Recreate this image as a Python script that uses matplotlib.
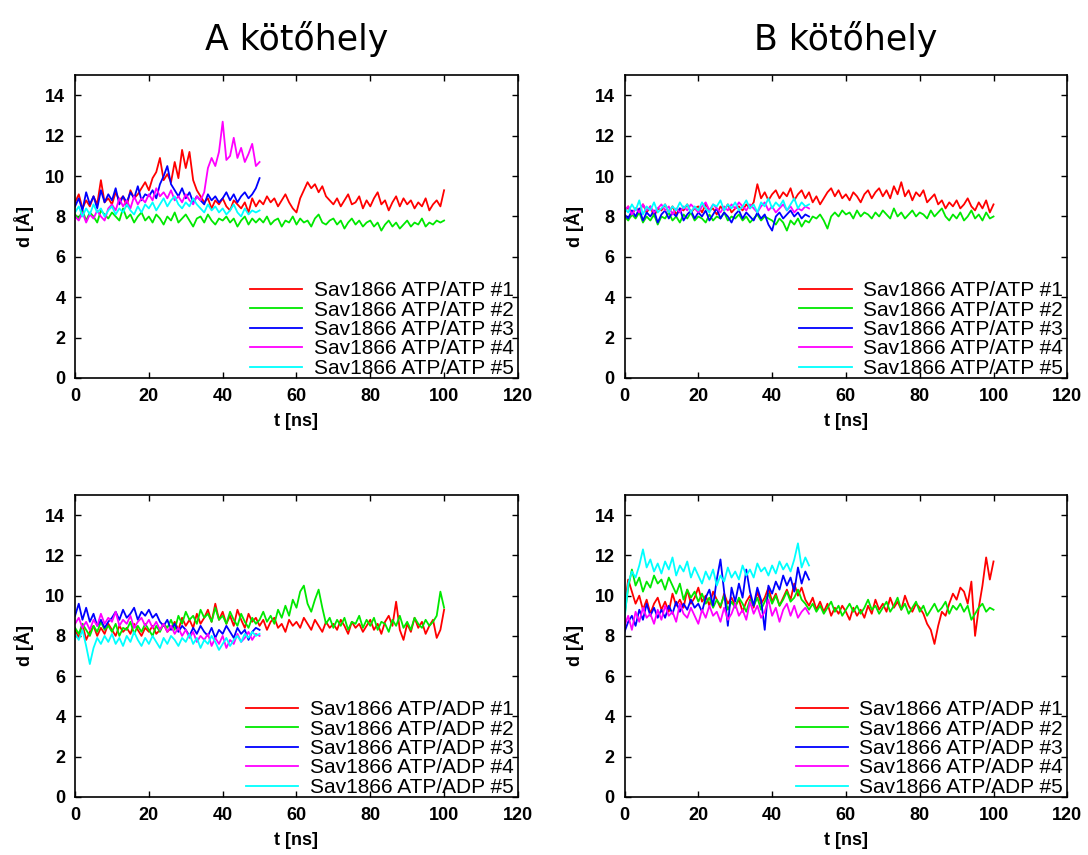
import numpy as np
import matplotlib
matplotlib.use("Agg")
import matplotlib.pyplot as plt

# d [A], one value per ns
# A site, ATP/ATP
a1 = [8.7, 9.1, 8.4, 8.8, 8.5, 9.0, 8.6, 9.8, 8.7, 8.9,
      8.6, 9.2, 8.8, 9.0, 8.5, 9.3, 8.9, 9.1, 9.4, 9.7,
      9.3, 9.9, 10.2, 10.9, 9.8, 10.1, 9.7, 10.7, 9.9, 11.3,
      10.4, 11.2, 9.8, 9.3, 9.0, 8.7, 8.9, 8.4, 8.8, 8.6,
      8.9, 8.5, 8.3, 8.8, 8.6, 8.4, 8.7, 8.2, 8.9, 8.5,
      8.8, 8.6, 9.0, 8.7, 8.9, 8.5, 8.8, 9.1, 8.7, 8.4,
      8.2, 8.9, 9.3, 9.7, 9.4, 9.6, 9.2, 9.5, 9.0, 8.8,
      8.6, 8.9, 8.5, 8.8, 9.1, 8.6, 8.7, 9.0, 8.4, 8.8,
      8.5, 8.9, 9.2, 8.6, 8.8, 8.3, 8.7, 9.0, 8.5, 8.9,
      8.6, 8.8, 8.4, 8.7, 8.5, 8.9, 8.3, 8.6, 8.8, 8.5, 9.3]
a2 = [8.1, 7.9, 8.3, 7.8, 8.2, 8.0, 7.7, 8.3, 8.1, 7.9,
      8.2, 8.0, 7.8, 8.4, 7.9, 8.1, 7.7, 8.0, 8.2, 7.8,
      8.0, 7.7, 8.1, 7.9, 7.6, 8.0, 7.8, 8.2, 7.7, 7.9,
      8.1, 7.8, 7.5, 7.9, 8.0, 7.7, 8.1, 7.8, 7.6, 7.9,
      7.8, 8.0, 7.7, 7.9, 7.5, 7.8, 8.0, 7.6, 7.9, 7.7,
      7.9, 7.7, 8.0, 7.6, 7.8, 7.9, 7.5, 7.8, 7.7, 8.0,
      7.6, 7.9, 7.7, 7.8, 7.5, 7.9, 8.1, 7.7, 7.6, 7.8,
      7.9, 7.6, 7.8, 7.4, 7.7, 7.9, 7.6, 7.8, 7.5, 7.7,
      7.8, 7.5, 7.7, 7.3, 7.6, 7.8, 7.5, 7.7, 7.4, 7.6,
      7.8, 7.5, 7.7, 7.6, 7.9, 7.5, 7.7, 7.6, 7.8, 7.7, 7.8]
a3 = [8.5, 8.9, 8.3, 9.2, 8.6, 9.0, 8.4, 9.3, 8.7, 9.1,
      8.8, 9.4, 8.6, 9.0, 8.7, 9.2, 8.9, 9.5, 8.8, 9.1,
      9.0, 9.3, 8.9, 9.6, 10.0, 10.5, 9.6, 9.3, 9.0, 9.4,
      8.9, 9.2, 8.7, 9.0, 8.8, 8.6, 9.1, 8.8, 9.0, 8.7,
      8.9, 9.2, 8.8, 9.1, 8.7, 9.0, 9.2, 8.9, 9.1, 9.4, 9.9]
a4 = [8.0, 7.8, 8.2, 7.7, 8.1, 7.9, 8.3, 8.0, 7.8, 8.4,
      8.6, 8.3, 8.9, 8.5, 8.8, 8.4, 9.0, 8.6, 8.9, 8.7,
      9.1, 8.8, 9.4, 9.0, 9.2, 8.9, 9.3, 8.8, 9.0, 8.7,
      9.1, 8.8, 8.6, 9.0, 8.8, 9.2, 10.4, 10.9, 10.5, 11.2,
      12.7, 10.8, 11.0, 11.9, 10.9, 11.4, 10.7, 11.1, 11.6, 10.5, 10.7]
a5 = [8.2, 8.5, 8.0, 8.4, 8.1, 8.6, 8.2, 8.4, 8.0, 8.3,
      8.5, 8.1, 8.4, 8.2, 8.6, 8.3, 8.1, 8.5, 8.2, 8.6,
      8.4, 8.7, 8.3, 8.6, 8.9, 8.5, 8.8, 9.0, 8.6, 8.4,
      8.7, 8.5, 8.9, 8.6, 8.4, 8.2, 8.6, 8.3, 8.5, 8.2,
      8.4, 8.1, 8.3, 8.6, 8.2, 8.0, 8.4, 8.1, 8.3, 8.2, 8.3]

# B site, ATP/ATP
b1 = [8.2, 8.5, 8.1, 8.4, 8.3, 8.6, 8.2, 8.5, 8.0, 8.4,
      8.3, 8.6, 8.2, 8.5, 8.1, 8.4, 8.3, 8.6, 8.2, 8.4,
      8.5, 8.2, 8.6, 8.3, 8.4, 8.1, 8.5, 8.3, 8.6, 8.2,
      8.4, 8.5, 8.3, 8.6, 8.4, 8.7, 9.6, 8.9, 9.2, 8.8,
      9.1, 9.3, 8.9, 9.2, 9.0, 9.4, 8.8, 9.1, 9.3, 8.9,
      9.2, 8.7, 9.0, 8.6, 8.9, 9.2, 9.4, 9.0, 9.3, 8.9,
      9.1, 8.8, 9.2, 9.0, 8.7, 9.1, 9.3, 8.9, 9.2, 9.4,
      9.0, 9.3, 8.9, 9.5, 9.1, 9.7, 9.0, 9.3, 8.8, 9.2,
      9.0, 9.3, 8.7, 8.9, 9.1, 8.6, 8.8, 8.4, 8.7, 8.5,
      8.8, 8.4, 8.6, 8.9, 8.5, 8.3, 8.7, 8.4, 8.8, 8.2, 8.6]
b2 = [8.0, 7.8, 8.1, 7.9, 8.2, 7.7, 8.0, 7.8, 8.1, 7.6,
      8.0, 7.9, 8.2, 7.8, 8.0, 7.7, 8.1, 7.9, 8.2, 7.8,
      8.0, 7.9, 7.7, 8.1, 7.8, 8.0, 7.9, 8.2, 7.8, 8.0,
      7.9, 8.1, 7.8, 8.0, 7.7, 7.9, 8.1, 7.8, 8.0, 7.9,
      7.8, 7.6, 7.9, 7.7, 7.3, 7.8, 7.6, 7.9, 7.5, 7.8,
      7.7, 8.0, 7.9, 8.1, 7.8, 7.4, 8.0, 8.2, 8.0, 8.3,
      8.1, 8.2, 7.9, 8.3, 8.0, 8.2, 8.1, 7.9, 8.2, 8.0,
      8.3, 8.1, 7.9, 8.4, 8.0, 8.2, 7.9, 8.1, 8.3, 8.0,
      8.2, 8.1, 7.9, 8.3, 8.0, 8.2, 8.4, 8.0, 7.8, 8.1,
      7.9, 8.2, 7.8, 8.0, 8.3, 7.9, 8.1, 7.8, 8.2, 7.9, 8.0]
b3 = [8.1, 7.9, 8.3, 8.0, 8.4, 7.8, 8.2, 8.0, 8.3, 7.7,
      8.1, 8.3, 7.9, 8.2, 8.0, 8.4, 7.8, 8.1, 8.3, 7.9,
      8.2, 8.0, 8.3, 7.8, 8.1, 8.4, 7.9, 8.2, 8.0, 7.7,
      8.1, 8.3, 7.9, 8.2, 8.0, 7.8, 8.2, 7.9, 8.1, 7.6,
      7.3, 8.0, 8.2, 7.9, 8.1, 8.3, 8.0, 8.2, 7.9, 8.1, 8.0]
b4 = [8.3, 8.5, 8.1, 8.4, 8.2, 8.6, 8.3, 8.5, 8.2, 8.4,
      8.6, 8.3, 8.5, 8.1, 8.4, 8.2, 8.5, 8.3, 8.6, 8.4,
      8.2, 8.5, 8.7, 8.3, 8.6, 8.4, 8.2, 8.5, 8.3, 8.6,
      8.4, 8.7, 8.5, 8.3, 8.6, 8.4, 8.2, 8.5, 8.7, 8.3,
      8.5, 8.2, 8.4, 8.6, 8.3, 8.5, 8.2, 8.4, 8.3, 8.5, 8.4]
b5 = [8.4, 8.2, 8.6, 8.3, 8.8, 8.1, 8.5, 8.3, 8.7, 8.2,
      8.4, 8.6, 8.2, 8.5, 8.3, 8.7, 8.4, 8.6, 8.2, 8.5,
      8.3, 8.7, 8.4, 8.2, 8.6, 8.5, 8.8, 8.3, 8.6, 8.4,
      8.7, 8.3, 8.5, 8.8, 8.4, 8.6, 8.2, 8.7, 8.5, 8.9,
      8.4, 8.7, 8.5, 8.8, 8.3, 8.6, 8.9, 8.4, 8.7, 8.5, 8.6]

# A site, ATP/ADP
c1 = [8.3, 7.9, 8.6, 7.8, 8.2, 8.5, 8.0, 8.4, 8.1, 8.6,
      8.3, 8.0, 8.5, 8.2, 8.4, 8.1, 8.6, 8.3, 8.0, 8.4,
      8.2, 8.5, 8.1, 8.3, 8.6, 8.2, 8.4, 8.7, 8.3, 8.9,
      8.5, 8.8, 8.4, 9.1, 8.6, 8.9, 9.3, 8.7, 9.6, 8.8,
      9.2, 8.6, 9.0, 8.5, 9.3, 8.8, 8.4, 9.1, 8.7, 8.9,
      8.5, 8.8, 8.3, 8.7, 8.9, 8.4, 8.6, 8.2, 8.8, 8.5,
      8.7, 8.4, 8.9, 8.6, 8.3, 8.8, 8.5, 8.2, 8.7, 8.4,
      8.6, 8.3, 8.8, 8.5, 8.1, 8.7, 8.4, 8.6, 8.2, 8.5,
      8.8, 8.3, 8.6, 8.1, 8.7, 9.0, 8.5, 9.7, 8.3, 7.8,
      8.6, 8.2, 8.9, 8.4, 8.7, 8.1, 8.5, 8.8, 7.9, 8.3, 9.3]
c2 = [8.4, 8.1, 8.6, 8.3, 8.0, 8.5, 8.2, 8.7, 8.3, 8.5,
      8.2, 8.6, 8.0, 8.4, 8.3, 8.7, 8.1, 8.5, 8.2, 8.6,
      8.3, 8.0, 8.5, 8.2, 8.6, 8.4, 8.8, 8.3, 9.0, 8.6,
      9.2, 8.8, 9.0, 8.6, 9.3, 8.9, 9.1, 8.7, 9.4, 8.8,
      9.0, 8.6, 9.2, 8.8, 8.5, 9.1, 8.7, 8.4, 8.9, 8.6,
      8.8, 9.2, 8.7, 9.0, 8.6, 9.3, 8.9, 9.5, 9.0, 9.8,
      9.4, 10.2, 10.5, 9.6, 9.2, 9.8, 10.3, 9.4, 8.6, 8.9,
      8.4, 8.8, 8.5, 8.9, 8.3, 8.7, 8.6, 9.0, 8.4, 8.8,
      8.5, 8.9, 8.3, 8.7, 8.6, 8.2, 8.8, 8.5, 9.0, 8.4,
      8.7, 8.3, 8.9, 8.6, 8.4, 8.8, 8.5, 8.7, 9.0, 10.2, 9.4]
c3 = [9.0, 9.6, 8.8, 9.4, 8.7, 9.1, 8.5, 8.8, 8.4, 8.7,
      8.9, 9.2, 8.8, 9.3, 8.9, 9.1, 9.4, 8.8, 9.2, 9.0,
      9.3, 8.9, 9.1, 8.7, 8.5, 8.8, 8.3, 8.6, 8.2, 8.5,
      8.3, 8.0, 8.4, 8.1, 8.5, 8.2, 8.0, 8.4, 7.9, 8.3,
      8.1, 8.5, 8.2, 7.9, 8.4, 8.1, 8.3, 7.8, 8.2, 8.4, 8.3]
c4 = [8.6, 8.9, 8.4, 8.7, 8.3, 8.8, 8.5, 9.1, 8.6, 8.9,
      8.7, 9.2, 8.5, 8.8, 8.6, 9.0, 8.4, 8.7, 8.9, 8.5,
      8.8, 8.4, 8.7, 8.3, 8.6, 8.2, 8.5, 8.1, 8.4, 8.0,
      8.3, 7.9, 8.2, 7.7, 8.0, 7.8, 8.1, 7.5, 7.9, 7.6,
      8.0, 7.4, 7.8, 7.6, 8.1, 7.7, 7.9, 8.2, 7.8, 8.1, 8.0]
c5 = [8.1, 7.8, 8.3, 7.5, 6.6, 7.4, 7.9, 7.6, 8.0, 7.7,
      8.1, 7.6, 7.9, 7.5, 8.0, 7.7, 8.2, 7.8, 7.5, 7.9,
      7.6, 8.0, 7.7, 7.4, 7.9, 7.6, 8.0, 7.8, 7.5, 7.9,
      7.7, 8.1, 7.6, 7.9, 7.4, 7.8, 7.6, 8.0, 7.7, 7.3,
      7.6, 7.9, 7.5, 7.8, 8.0, 7.7, 8.1, 7.9, 8.2, 8.0, 8.1]

# B site, ATP/ADP
d1 = [9.4, 10.8, 10.2, 9.6, 10.0, 9.3, 9.8, 9.1, 9.6, 9.9,
      9.3, 9.7, 9.2, 10.1, 9.5, 9.8, 9.4, 10.3, 9.6, 9.9,
      10.4, 9.7, 10.0, 9.5, 10.2, 9.8, 9.4, 10.1, 9.6, 9.9,
      9.5, 9.8, 9.2, 9.7, 10.0, 9.4, 10.2, 9.6, 9.9, 10.4,
      9.7, 10.1, 9.5, 9.9, 10.3, 9.8, 10.6, 10.0, 10.4, 9.8,
      9.5, 9.9, 9.3, 9.7, 9.2, 9.6, 9.0, 9.4, 9.1, 9.5,
      9.2, 8.8, 9.4, 9.0, 9.3, 8.9, 9.5, 9.1, 9.8, 9.3,
      9.6, 9.2, 9.9, 9.4, 9.7, 9.3, 10.0, 9.5, 9.2, 9.6,
      9.4, 9.1, 8.6, 8.3, 7.6, 8.5, 9.2, 9.0, 9.6, 10.1,
      9.8, 10.4, 10.2, 9.6, 10.7, 8.0, 9.4, 10.5, 11.9, 10.8, 11.7]
d2 = [9.0, 10.4, 11.3, 10.5, 10.9, 10.2, 10.7, 10.4, 11.0, 10.6,
      10.8, 10.3, 10.9, 10.5, 10.1, 10.6, 9.8, 10.3, 9.9, 10.2,
      9.7, 10.1, 9.6, 9.9, 9.4, 9.8, 9.5, 10.0, 9.3, 9.7,
      9.4, 9.9, 9.6, 9.2, 9.8, 9.5, 9.9, 9.3, 9.7, 10.1,
      9.6, 10.0, 9.5, 9.8, 10.2, 9.7, 9.9, 10.3, 9.8, 9.6,
      9.3, 9.6, 9.2, 9.5, 9.1, 9.4, 9.7, 9.2, 9.5, 9.0,
      9.3, 9.6, 9.2, 9.5, 9.1, 9.4, 9.8, 9.3, 9.5, 9.1,
      9.4, 9.7, 9.2, 9.5, 9.9, 9.3, 9.6, 9.1, 9.4, 9.7,
      9.2, 9.5, 9.0, 9.3, 9.6, 9.2, 9.4, 9.7, 9.1, 9.5,
      9.3, 9.6, 9.2, 9.5, 8.8, 9.1, 9.4, 9.6, 9.2, 9.4, 9.3]
d3 = [8.2, 8.7, 9.0, 8.5, 9.3, 8.8, 9.6, 9.0, 9.4, 8.9,
      9.3, 8.9, 9.5, 9.1, 9.7, 9.2, 9.6, 9.3, 9.8, 9.4,
      9.6, 9.2, 9.9, 10.3, 9.5, 10.8, 11.8, 10.2, 8.5, 10.4,
      9.7, 10.6, 9.9, 11.3, 10.2, 9.5, 10.4, 9.8, 8.3, 10.5,
      10.1, 10.7, 10.3, 11.0, 10.5, 10.9, 10.2, 11.4, 10.6, 11.2, 10.8]
d4 = [8.5, 9.0, 8.3, 9.2, 8.7, 9.4, 8.9, 9.1, 8.6, 9.3,
      8.8, 9.5, 9.0, 9.2, 8.7, 9.6, 9.1, 8.9, 9.4, 9.0,
      8.6, 9.3, 8.9, 9.5, 9.0, 9.2, 8.7, 9.4, 8.8, 9.1,
      9.6, 9.0, 9.3, 8.8, 9.7, 9.1, 9.5, 8.9, 9.2, 9.8,
      9.0, 9.4, 8.7, 9.3, 9.6, 9.0, 9.5, 8.9, 9.2, 9.4, 9.1]
d5 = [8.8, 10.6, 11.2, 10.9, 11.5, 12.3, 11.4, 11.8, 11.2, 11.6,
      11.1, 11.7, 11.3, 11.9, 11.0, 11.5, 11.2, 11.7, 10.9, 11.4,
      11.0, 10.6, 11.2, 10.8, 11.3, 10.5, 11.0, 10.7, 11.4, 10.9,
      11.2, 10.8, 11.5, 11.0, 11.3, 10.9, 11.6, 11.2, 11.4, 11.0,
      11.5, 11.1, 11.7, 11.3, 11.6, 11.2, 11.8, 12.6, 11.4, 11.9, 11.5]

colors = ['#ff0000', '#00e800', '#0000ff', '#ff00ff', '#00ffff']
labels_atp = ['Sav1866 ATP/ATP #%d' % i for i in range(1, 6)]
labels_adp = ['Sav1866 ATP/ADP #%d' % i for i in range(1, 6)]

panels = [
    ([0.069, 0.558, 0.407, 0.354], [a1, a2, a3, a4, a5], labels_atp, 'A kötőhely'),
    ([0.574, 0.558, 0.407, 0.354], [b1, b2, b3, b4, b5], labels_atp, 'B kötőhely'),
    ([0.069, 0.068, 0.407, 0.353], [c1, c2, c3, c4, c5], labels_adp, None),
    ([0.574, 0.068, 0.407, 0.353], [d1, d2, d3, d4, d5], labels_adp, None),
]

fig = plt.figure(figsize=(10.88, 8.55), dpi=100)
tick_font = dict(family='Liberation Sans', weight='bold', size=13)

for rect, series, labels, title in panels:
    ax = fig.add_axes(rect)
    for y, c, lab in zip(series, colors, labels):
        t = np.arange(len(y))
        ax.plot(t, y, color=c, lw=1.3, label=lab)
    ax.set_xlim(0, 120)
    ax.set_ylim(0, 15)
    ax.set_xticks(range(0, 121, 20))
    ax.set_yticks(range(0, 15, 2))
    ax.tick_params(direction='in', top=True, right=True, length=4, width=1, pad=7)
    for lab in ax.get_xticklabels() + ax.get_yticklabels():
        lab.set_fontproperties(tick_font)
    for s in ax.spines.values():
        s.set_linewidth(1.2)
    ax.set_xlabel('t [ns]', fontdict=tick_font, labelpad=6)
    ax.set_ylabel('d [Å]', fontdict=tick_font, labelpad=8)
    if title:
        ax.set_title(title, family='DejaVu Sans', size=25, pad=18)
    ax.legend(loc='lower right', bbox_to_anchor=(0.99, 0.0), frameon=False,
              prop=dict(family='Liberation Sans', size=15),
              handlelength=2.5, handletextpad=0.55, labelspacing=0.02,
              borderaxespad=0.0, borderpad=0.0)

fig.savefig('out.png', dpi=100)
